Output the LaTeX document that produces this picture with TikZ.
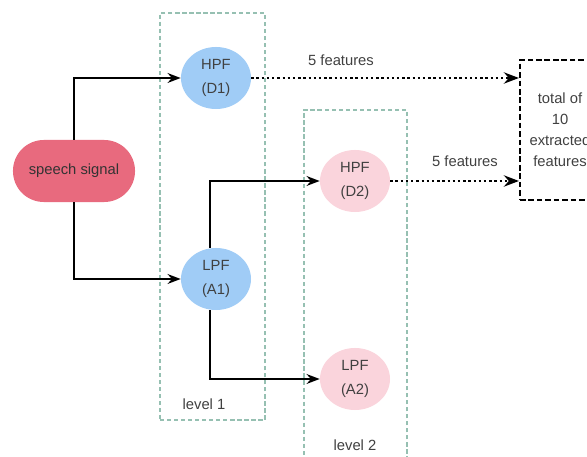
\documentclass[tikz,border=0pt]{standalone}
\usepackage{fontspec}
\setmainfont{Liberation Sans}
\usepackage{xcolor}
\usetikzlibrary{positioning, arrows.meta, shapes.geometric}
\definecolor{sigred}{RGB}{232,106,126}
\definecolor{filtblue}{RGB}{160,204,246}
\definecolor{filtpink}{RGB}{250,212,220}
\definecolor{lvlgreen}{RGB}{150,192,178}

\begin{document}
\begin{tikzpicture}[
  x=0.025cm, y=-0.025cm,
  >=Stealth,
  txt/.style={font=\fontsize{10.5}{17}\selectfont, text=black!75},
  src/.style={txt, fill=sigred, rounded corners=0.77cm, minimum width=3.05cm,
              minimum height=1.55cm, text=black!80},
  filt/.style={txt, ellipse, align=center, inner sep=0pt,
               minimum width=1.75cm, minimum height=1.55cm},
  hi/.style={filt, fill=filtblue},
  lo/.style={filt, fill=filtpink},
  lvl/.style={draw=lvlgreen, line width=1pt, dash pattern=on 3pt off 2pt},
  tot/.style={txt, draw=black, line width=1.5pt, dash pattern=on 4pt off 2pt,
              align=center, font=\fontsize{10.5}{15}\selectfont,
              minimum width=2cm, minimum height=3.5cm},
  ar/.style={->, line width=1.4pt},
  dt/.style={->, dotted, line width=1.7pt},
]
\useasboundingbox (0,0) rectangle (587,457);
\clip (0,0) rectangle (587,457);

% ===================== level boxes =====================
\node[lvl, minimum width=2.625cm, minimum height=10.175cm] (L1) at (212.5,216.5) {};
\node[lvl, minimum width=2.575cm, minimum height=9cm] (L2) at (355.5,290) {};
\node[txt] (L1t) at (204,404) {level 1};
\node[txt] (L2t) at (355,445) {level 2};

% ===================== nodes =====================
\node[src] (sig) at (74,171) {speech signal};
\node[hi] (D1) at (216,78) {HPF\\(D1)};
\node[hi] (A1) at (216,279) {LPF\\(A1)};
\node[lo] (D2) at (355,181) {HPF\\(D2)};
\node[lo] (A2) at (355,379) {LPF\\(A2)};
\node[tot] (T) at (560,130) {total of\\10\\extracted\\features};

% ===================== connectors =====================
\draw[ar] (sig.north) |- (D1);
\draw[ar] (sig.south) |- (A1);
\draw[ar] ([xshift=-4pt]A1.north) |- (D2);
\draw[ar] ([xshift=-4pt]A1.south) |- (A2);
\draw[dt] (D1) -- (D1 -| T.west);
\draw[dt] (D2) -- (D2 -| T.west);
\node[txt] (f1) at (341,60) {5 features};
\node[txt] (f2) at (465,161) {5 features};
\end{tikzpicture}
\end{document}
